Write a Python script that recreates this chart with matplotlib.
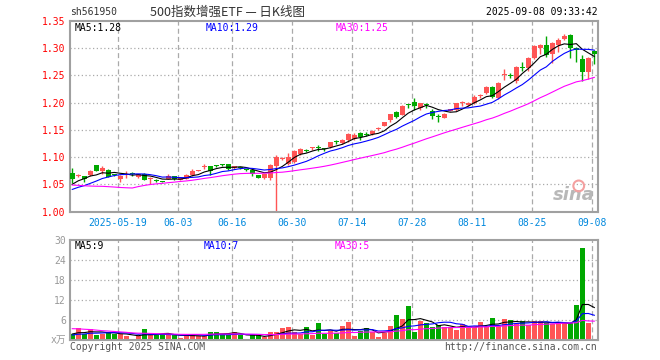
import matplotlib
matplotlib.use("Agg")
import matplotlib.pyplot as plt
import pandas as pd

plt.rcParams['font.family'] = ['DejaVu Sans Mono', 'Noto Sans CJK SC']

# sessions before the visible window, only used to seed the moving averages
prior_close = [1.080, 1.085, 1.088, 1.086, 1.084, 1.082, 1.088, 1.090, 1.085, 1.082,
               0.990, 0.995, 1.010, 1.020, 1.025, 1.030, 1.030, 1.025, 1.038, 1.036,
               1.028, 1.030, 1.032, 1.033, 1.033, 1.035, 1.040, 1.050, 1.065]
prior_vol = [5.0, 5.5, 6.0, 6.5, 7.0, 6.0, 5.5, 5.5, 5.0, 5.5,
             4.0, 3.8, 3.5, 3.3, 3.2, 3.0, 2.8, 2.8,
             1.6, 1.5, 1.2, 1.1, 1.0, 1.3, 1.2, 1.8, 1.6, 2.0, 1.8]

# daily K data, 2025-05-07 .. 2025-09-08
opens = [1.070, 1.065, 1.066, 1.067, 1.085, 1.075, 1.077, 1.068, 1.059, 1.067,
         1.070, 1.0625, 1.068, 1.060, 1.057, 1.055, 1.059, 1.066, 1.058, 1.060,
         1.067, 1.075, 1.081, 1.083, 1.085, 1.087, 1.087, 1.080, 1.081, 1.078,
         1.077, 1.067, 1.062, 1.061, 1.083, 1.097, 1.088, 1.091, 1.106, 1.113,
         1.116, 1.118, 1.116, 1.118, 1.129, 1.126, 1.131, 1.134, 1.145, 1.143,
         1.142, 1.151, 1.158, 1.168, 1.182, 1.178, 1.196, 1.202, 1.190, 1.196,
         1.184, 1.175, 1.172, 1.185, 1.186, 1.199, 1.195, 1.200, 1.212, 1.217,
         1.229, 1.209, 1.251, 1.251, 1.239, 1.266, 1.263, 1.282, 1.300, 1.305,
         1.290, 1.306, 1.317, 1.324, 1.300, 1.281, 1.256, 1.294]
highs = [1.080, 1.068, 1.066, 1.076, 1.086, 1.084, 1.078, 1.069, 1.067, 1.074,
         1.073, 1.069, 1.070, 1.063, 1.059, 1.055, 1.068, 1.066, 1.062, 1.068,
         1.078, 1.077, 1.087, 1.084, 1.086, 1.088, 1.088, 1.084, 1.082, 1.079,
         1.079, 1.067, 1.069, 1.087, 1.104, 1.101, 1.107, 1.113, 1.116, 1.115,
         1.119, 1.123, 1.116, 1.128, 1.131, 1.133, 1.144, 1.144, 1.146, 1.146,
         1.149, 1.155, 1.165, 1.180, 1.184, 1.195, 1.197, 1.209, 1.200, 1.199,
         1.188, 1.179, 1.181, 1.189, 1.200, 1.203, 1.201, 1.214, 1.215, 1.230,
         1.230, 1.238, 1.262, 1.255, 1.267, 1.274, 1.283, 1.306, 1.308, 1.323,
         1.311, 1.318, 1.326, 1.326, 1.302, 1.287, 1.283, 1.297]
lows = [1.052, 1.063, 1.055, 1.065, 1.074, 1.068, 1.063, 1.066, 1.054, 1.061,
        1.066, 1.061, 1.057, 1.050, 1.054, 1.052, 1.059, 1.058, 1.057, 1.059,
        1.065, 1.074, 1.079, 1.067, 1.082, 1.084, 1.076, 1.079, 1.079, 1.074,
        1.066, 1.061, 1.060, 1.058, 1.000, 1.094, 1.085, 1.090, 1.104, 1.110,
        1.113, 1.111, 1.111, 1.117, 1.124, 1.124, 1.128, 1.132, 1.132, 1.138,
        1.141, 1.149, 1.157, 1.164, 1.172, 1.177, 1.190, 1.186, 1.187, 1.190,
        1.170, 1.165, 1.171, 1.184, 1.185, 1.194, 1.194, 1.198, 1.208, 1.215,
        1.209, 1.207, 1.241, 1.245, 1.237, 1.259, 1.259, 1.280, 1.290, 1.284,
        1.273, 1.293, 1.315, 1.282, 1.275, 1.239, 1.244, 1.271]
closes = [1.060, 1.067, 1.060, 1.074, 1.075, 1.080, 1.063, 1.067, 1.066, 1.069,
          1.069, 1.068, 1.058, 1.062, 1.056, 1.054, 1.066, 1.060, 1.061, 1.067,
          1.075, 1.076, 1.084, 1.075, 1.084, 1.086, 1.078, 1.083, 1.080, 1.077,
          1.069, 1.062, 1.068, 1.085, 1.101, 1.098, 1.101, 1.111, 1.114, 1.112,
          1.117, 1.116, 1.114, 1.127, 1.128, 1.132, 1.142, 1.141, 1.136, 1.141,
          1.148, 1.152, 1.164, 1.179, 1.173, 1.193, 1.195, 1.193, 1.199, 1.195,
          1.176, 1.173, 1.180, 1.188, 1.199, 1.201, 1.200, 1.211, 1.214, 1.229,
          1.210, 1.237, 1.252, 1.249, 1.266, 1.264, 1.282, 1.304, 1.306, 1.288,
          1.309, 1.315, 1.322, 1.300, 1.296, 1.257, 1.282, 1.289]
volumes = [1.8, 3.7, 1.8, 3.3, 1.5, 1.8, 2.5, 1.8, 1.8, 1.2,
           0.4, 1.2, 3.3, 1.8, 1.5, 1.8, 1.5, 1.6, 0.7, 1.2,
           1.6, 1.2, 1.2, 2.5, 2.5, 1.8, 1.6, 2.5, 1.4, 0.4,
           1.4, 1.4, 0.8, 2.5, 2.5, 3.7, 4.0, 2.5, 1.8, 4.0,
           1.4, 5.2, 1.8, 2.8, 2.0, 4.2, 5.4, 1.2, 2.7, 3.5,
           2.4, 0.9, 2.2, 4.2, 7.5, 6.3, 10.2, 2.4, 5.7, 5.0,
           3.8, 4.5, 3.8, 4.0, 3.0, 4.8, 3.8, 3.8, 5.4, 4.0,
           6.6, 4.2, 6.3, 6.0, 4.7, 5.7, 4.5, 5.8, 5.8, 5.0,
           4.7, 5.0, 5.0, 5.0, 10.5, 27.7, 5.1, 0.4]

tick_pos = [8, 18, 27, 37, 47, 57, 67, 77, 87]
tick_labels = ['2025-05-19', '06-03', '06-16', '06-30', '07-14', '07-28', '08-11', '08-25', '09-08']
price_ticks = [1.00, 1.05, 1.10, 1.15, 1.20, 1.25, 1.30, 1.35]
vol_ticks = [6, 12, 18, 24, 30]

UP = '#ff5555'
DOWN = '#00a800'
GRID = '#aaaaaa'
SPINE = '#a0a0a0'

n = len(closes)
x = list(range(n))
colors = [UP if c >= o else DOWN for o, c in zip(opens, closes)]
grid_x = [p - 0.35 for p in tick_pos]  # date lines sit just left of the candle


def moving(prior, values, w):
    s = pd.Series(prior + values).rolling(w).mean()
    return s.iloc[len(prior):].values


W, H = 660, 360
fig = plt.figure(figsize=(W / 100, H / 100), dpi=100)
fig.patch.set_facecolor('white')


def px_axes(left, top, right, bottom):
    return fig.add_axes([left / W, 1 - bottom / H, (right - left) / W, (bottom - top) / H])


ax = px_axes(70, 21, 597.5, 211.5)
axv = px_axes(70, 240, 597.5, 340)

for a in (ax, axv):
    a.set_xlim(-0.38, 87.53)
    for sp in a.spines.values():
        sp.set_color(SPINE)
        sp.set_linewidth(1.5)
    for gx in grid_x:
        a.axvline(gx, color=GRID, lw=0.9, linestyle=(0, (4, 2.5)), zorder=0)

# price panel
ax.set_ylim(1.0, 1.35)
for y in price_ticks[1:-1]:
    ax.axhline(y, color=GRID, lw=0.9, linestyle=(0, (1, 2)), zorder=0)

body_bottom = [min(o, c) for o, c in zip(opens, closes)]
body_height = [max(abs(c - o), 0.0016) for o, c in zip(opens, closes)]
ax.vlines(x, lows, highs, colors=colors, lw=1.0, zorder=2)
ax.bar(x, body_height, bottom=body_bottom, width=0.78, color=colors, lw=0, zorder=3)

ax.plot(x, moving(prior_close, closes, 5), color='black', lw=0.8, zorder=4)
ax.plot(x, moving(prior_close, closes, 10), color='#0000ff', lw=0.8, zorder=4)
ax.plot(x, moving(prior_close, closes, 30), color='#ff00ff', lw=0.8, zorder=4)

ax.set_yticks(price_ticks)
ax.set_yticklabels(['%.2f' % t for t in price_ticks])
ax.set_xticks(grid_x)
ax.set_xticklabels(tick_labels)
ax.tick_params(axis='y', length=0, pad=3, labelsize=7, labelcolor='#ff0000')
ax.tick_params(axis='x', length=0, pad=4.5, labelsize=7, labelcolor='#0088dd')

ax.text(83.6, 1.031, 'sina', color='#b8b8b8', fontsize=13, fontstyle='italic',
        fontweight='bold', family='DejaVu Sans', ha='center', va='center', zorder=1)
ax.scatter([84.4], [1.047], s=60, facecolors='none', edgecolors='#f4a0a0', lw=1.5, zorder=1)

# volume panel
axv.set_ylim(0, 30)
for y in vol_ticks[:-1]:
    axv.axhline(y, color=GRID, lw=0.9, linestyle=(0, (1, 2)), zorder=0)
axv.bar(x, volumes, width=0.82, color=colors, lw=0, zorder=2)
axv.plot(x, moving(prior_vol, volumes, 5), color='black', lw=0.8, zorder=3)
axv.plot(x, moving(prior_vol, volumes, 10), color='#0000ff', lw=0.8, zorder=3)
axv.plot(x, moving(prior_vol, volumes, 30), color='#ff00ff', lw=0.8, zorder=3)
axv.set_yticks(vol_ticks)
axv.set_yticklabels([str(t) for t in vol_ticks])
axv.set_xticks([])
axv.tick_params(axis='y', length=0, pad=3, labelsize=7, labelcolor='#999999')


def ftext(px, py, s, **kw):
    kw.setdefault('fontsize', 7)
    kw.setdefault('va', 'center')
    fig.text(px / W, 1 - py / H, s, **kw)


ftext(70, 12, 'sh561950', color='#333333')
ftext(150, 12, '500指数增强ETF — 日K线图', color='#333333', fontsize=9,
      family=['Noto Sans CJK SC', 'DejaVu Sans'])
ftext(598, 12, '2025-09-08 09:33:42', color='black', ha='right')

ftext(75, 28, 'MA5:1.28', color='black')
ftext(206, 28, 'MA10:1.29', color='#0000ff')
ftext(336, 28, 'MA30:1.25', color='#ff00ff')

ftext(75, 246, 'MA5:9', color='black')
ftext(204, 246, 'MA10:7', color='#0000ff')
ftext(335, 246, 'MA30:5', color='#ff00ff')

ftext(66, 340, 'x万', color='#999999', ha='right')
ftext(70, 347, 'Copyright 2025 SINA.COM', color='#555555')
ftext(597, 347, 'http://finance.sina.com.cn', color='#555555', ha='right')

fig.savefig('out.png', dpi=100)
